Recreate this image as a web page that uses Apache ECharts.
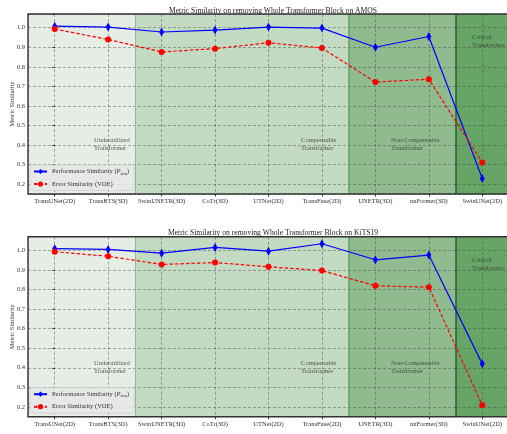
<!DOCTYPE html>
<html>
<head>
<meta charset="utf-8">
<script src="https://cdn.jsdelivr.net/npm/echarts@6/dist/echarts.min.js"></script>
<style>
  html, body { margin: 0; padding: 0; background: #fff; }
  #chart { width: 507px; height: 434px; }
</style>
</head>
<body>
<div id="chart"></div>
<script>
// Models evaluated, in x-axis order
const models = ['TransUNet(2D)', 'TransBTS(3D)', 'SwinUNETR(3D)', 'CoTr(3D)', 'UTNet(2D)',
                'TransFuse(2D)', 'UNETR(3D)', 'nnFormer(3D)', 'SwinUNet(2D)'];

// AMOS: similarity after removing the whole transformer block
const amosPerf  = [1.008, 1.003, 0.978, 0.988, 1.003, 0.998, 0.900, 0.955, 0.229];
const amosError = [0.993, 0.940, 0.876, 0.893, 0.923, 0.896, 0.722, 0.737, 0.311];

// KiTS19
const kitsPerf  = [1.009, 1.005, 0.986, 1.015, 0.996, 1.034, 0.952, 0.976, 0.420];
const kitsError = [0.993, 0.970, 0.928, 0.938, 0.916, 0.897, 0.819, 0.812, 0.208];

const titles = ['Metric Similarity on removing Whole Transformer Block on AMOS',
                'Metric Similarity on removing Whole Transformer Block on KiTS19'];

// Transformer-usage groups: span on the model index axis
const groupSpans = [[-0.5, 1.5], [1.5, 5.5], [5.5, 7.5], [7.5, 8.5]];
const groupColors = ['#e5ede5', '#c3dbc3', '#8fbb8f', '#67a567'];
const dividerColors = ['#8fbc8f', '#62a062', '#22602a'];
const groupLabels = ['Underutilized\nTransformer', 'Compensable\nTransformer',
                     'Non-Compensable\nTransformer', 'Critical\nTransformer'];
const groupLabelPos = [[0.735, 0.405], [4.61, 0.405], [6.29, 0.405], [7.81, 0.93]];

const perfName = 'Performance Similarity';
const errName = 'Error Similarity (VOE)';

const FONT = 'Liberation Serif';
const TXT = '#333';

const gridTops = [14, 236.7];
const gridH = 180;

const option = {
  animation: false,
  textStyle: { fontFamily: FONT },
  title: titles.map((t, i) => ({
    text: t,
    left: 268, textAlign: 'center',
    top: gridTops[i] - 12.5,
    textStyle: { fontFamily: FONT, fontSize: 7.6, fontWeight: 'normal', color: '#222' }
  })),
  grid: gridTops.map(t => ({
    left: 28, top: t, width: 481, height: gridH,
    outerBoundsMode: 'none', containLabel: false,
    show: true, z: 10, backgroundColor: 'transparent',
    borderColor: '#333', borderWidth: 1.4
  })),
  legend: gridTops.map(t => ({
    orient: 'vertical',
    left: 30, top: t + 151,
    itemWidth: 13, itemHeight: 6.5, itemGap: 4.5,
    padding: [3, 5, 3, 3],
    backgroundColor: 'rgba(232,232,232,0.85)',
    borderColor: '#d0d0d0', borderWidth: 0.8, borderRadius: 3,
    z: 11,
    data: [perfName, errName],
    formatter: n => n === perfName ? 'Performance Similarity ({i|P}{s|sim})' : n,
    textStyle: {
      fontFamily: FONT, fontSize: 6.5, color: TXT,
      rich: {
        i: { fontFamily: FONT, fontSize: 6.5, fontStyle: 'italic', color: TXT },
        s: { fontFamily: FONT, fontSize: 4.5, color: TXT, padding: [4, 0, 0, 0] }
      }
    }
  })),
  xAxis: [],
  yAxis: [],
  series: []
};

const gridLine = { show: true, lineStyle: { color: 'rgba(70,70,70,0.55)', width: 0.8, type: [3, 2] } };

[0, 1].forEach(g => {
  // visible category axis carrying the model names
  option.xAxis.push({
    type: 'category', gridIndex: g, data: models, boundaryGap: true, z: 5,
    axisLine: { show: false },
    axisTick: { show: true, alignWithLabel: true, length: 2.5, lineStyle: { color: '#333' } },
    axisLabel: { fontFamily: FONT, fontSize: 6.5, color: TXT, margin: 4, interval: 0 },
    splitLine: { show: false }
  });
  // index axis used for group backgrounds, vertical grid and annotations
  option.xAxis.push({
    type: 'value', gridIndex: g, min: -0.5, max: 8.5,
    minInterval: 1, maxInterval: 1, z: 5,
    axisLine: { show: false }, axisTick: { show: false }, axisLabel: { show: false },
    splitLine: gridLine
  });
  option.yAxis.push({
    type: 'value', gridIndex: g, min: 0.15, max: 1.07,
    splitNumber: 9, minInterval: 0.1, maxInterval: 0.1, z: 5,
    name: 'Metric Similarity', nameLocation: 'middle', nameGap: 12,
    nameMoveOverlap: false,
    nameTextStyle: { fontFamily: FONT, fontSize: 6.5, color: TXT },
    axisLine: { show: false },
    axisTick: { show: true, length: 2.5, lineStyle: { color: '#333' } },
    axisLabel: {
      fontFamily: FONT, fontSize: 6.5, color: TXT, margin: 3,
      formatter: v => Math.abs(v * 10 - Math.round(v * 10)) < 1e-6 ? v.toFixed(1) : ''
    },
    splitLine: gridLine
  });
});

const perfData = [amosPerf, kitsPerf];
const errData = [amosError, kitsError];

[0, 1].forEach(g => {
  const catAxis = g * 2, idxAxis = g * 2 + 1;
  // group backgrounds and dividers
  option.series.push({
    type: 'line', xAxisIndex: idxAxis, yAxisIndex: g, data: [], z: 1, silent: true,
    markArea: {
      silent: true,
      data: groupSpans.map((s, i) => [
        { xAxis: s[0], itemStyle: { color: groupColors[i] } },
        { xAxis: s[1] }
      ])
    },
    markLine: {
      silent: true, symbol: 'none', label: { show: false },
      data: groupSpans.slice(1).map((s, i) => ({
        xAxis: s[0],
        lineStyle: { color: dividerColors[i], width: i === 0 ? 1 : 1.5, type: 'solid' }
      }))
    }
  });
  // group annotations
  option.series.push({
    type: 'scatter', xAxisIndex: idxAxis, yAxisIndex: g, z: 6, silent: true,
    symbolSize: 0,
    data: groupLabels.map((t, i) => ({ name: t, value: groupLabelPos[i] })),
    label: {
      show: true, position: [0, 0], align: 'left', verticalAlign: 'middle',
      formatter: '{b}', fontFamily: FONT, fontSize: 6.5, lineHeight: 8, color: '#333'
    }
  });
  option.series.push({
    name: perfName, type: 'line', xAxisIndex: catAxis, yAxisIndex: g, z: 7,
    data: perfData[g],
    symbol: 'path://M0,-10 L5.5,0 L0,10 L-5.5,0 Z', symbolSize: [5, 9],
    itemStyle: { color: '#0000ff' },
    lineStyle: { color: '#0000ff', width: 1.2 }
  });
  option.series.push({
    name: errName, type: 'line', xAxisIndex: catAxis, yAxisIndex: g, z: 7,
    data: errData[g],
    symbol: 'circle', symbolSize: 6,
    itemStyle: { color: '#ff0000' },
    lineStyle: { color: '#ff0000', width: 1.2, type: [3.5, 2] }
  });
});

const chart = echarts.init(document.getElementById('chart'), null, { renderer: 'canvas' });
chart.setOption(option);
</script>
</body>
</html>
